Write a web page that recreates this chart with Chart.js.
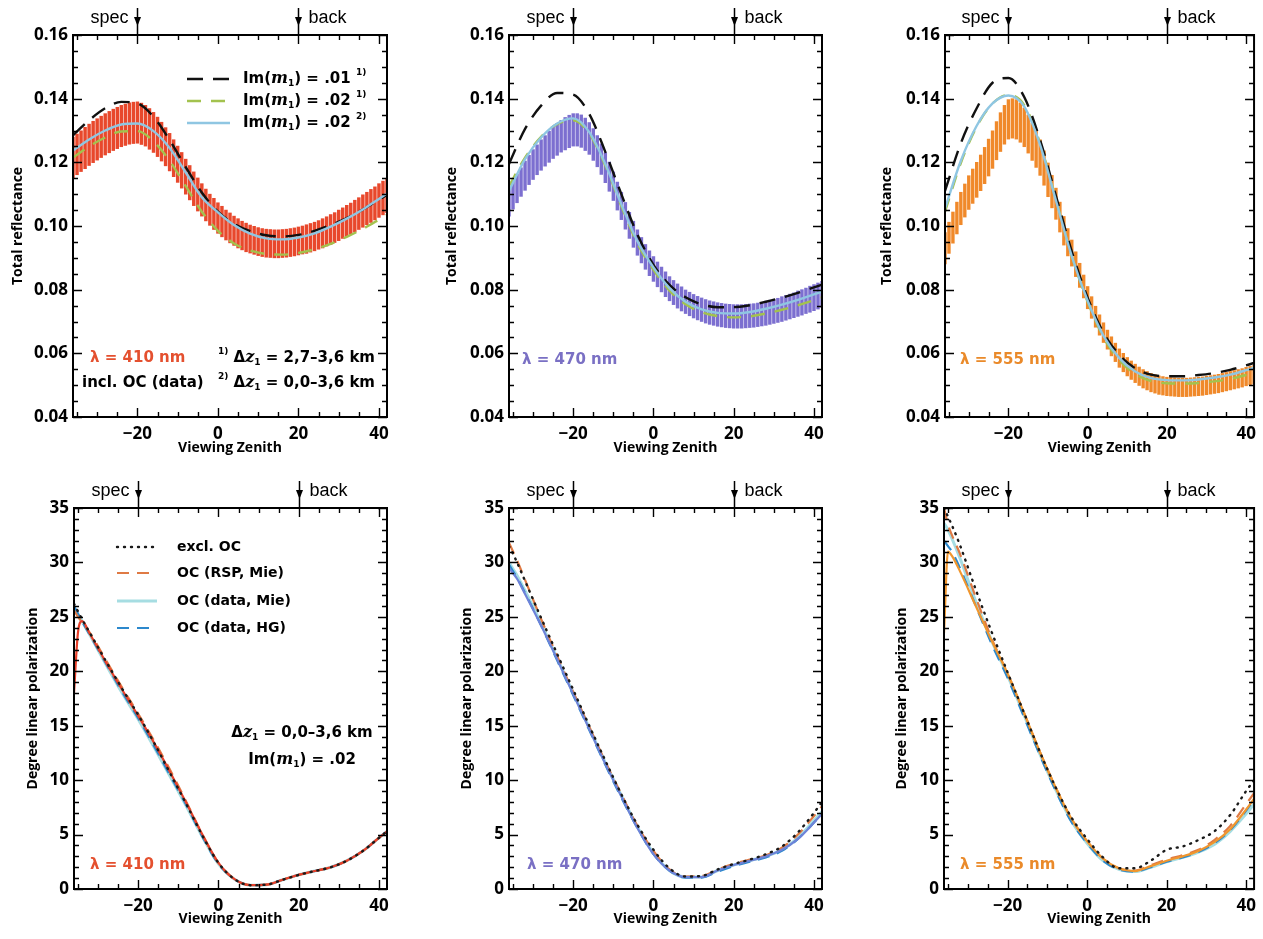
<!DOCTYPE html>
<html>
<head>
<meta charset="utf-8">
<title>Total reflectance and degree of linear polarization</title>
<script src="https://cdn.jsdelivr.net/npm/chart.js@4.4.1/dist/chart.umd.min.js"></script>
<style>
  html, body { margin: 0; padding: 0; background: #fff; }
  #page { position: relative; width: 1263px; height: 939px; overflow: hidden; }
  #page canvas { position: absolute; }
</style>
</head>
<body>
<div id="page"></div>
<script>
// ---- x positions (viewing zenith, degrees) ----
var zenithBars = [-36,-35,-34,-33,-32,-31,-30,-29,-28,-27,-26,-25,-24,-23,-22,-21,-20,-19,-18,-17,-16,-15,-14,-13,-12,-11,-10,-9,-8,-7,-6,-5,-4,-3,-2,-1,0,1,2,3,4,5,6,7,8,9,10,11,12,13,14,15,16,17,18,19,20,21,22,23,24,25,26,27,28,29,30,31,32,33,34,35,36,37,38,39,40,41,42];
var zenithModel = [-36,-32,-28,-24,-20,-16,-12,-8,-4,0,4,8,12,16,20,24,28,32,36,40,42];
var zenithDolp = [-36,-35,-34,-32,-28,-24,-20,-16,-12,-8,-4,0,4,8,12,16,20,24,28,32,36,40,42];

// ---- total reflectance, measured (mean and half error bar) ----
var refl410Mean = [0.1215,0.1225,0.1235,0.1245,0.1255,0.1264,0.1272,0.128,0.1288,0.1295,
    0.1302,0.1308,0.1314,0.1318,0.1322,0.1324,0.1325,0.1321,0.1315,0.1305,
    0.1294,0.128,0.1265,0.1249,0.1232,0.1213,0.1194,0.1175,0.1155,0.1136,
    0.1117,0.1099,0.1082,0.1066,0.1051,0.1038,0.1025,0.1014,0.1003,0.0994,
    0.0985,0.0977,0.097,0.0964,0.0959,0.0955,0.0951,0.0948,0.0946,0.0945,
    0.0944,0.0944,0.0945,0.0946,0.0948,0.095,0.0953,0.0956,0.0959,0.0963,
    0.0967,0.0972,0.0977,0.0983,0.0989,0.0995,0.1002,0.1009,0.1016,0.1023,
    0.1031,0.1039,0.1047,0.1055,0.1063,0.1071,0.108,0.1088,0.1096];
var refl410Err = [0.0065,0.0065,0.0065,0.0066,0.0066,0.0066,0.0066,0.0066,0.0066,0.0066,
    0.0066,0.0066,0.0066,0.0066,0.0066,0.0066,0.0066,0.0066,0.0065,0.0065,
    0.0064,0.0063,0.0062,0.0061,0.006,0.0059,0.0058,0.0057,0.0056,0.0055,
    0.0054,0.0053,0.0052,0.0051,0.005,0.005,0.0049,0.0049,0.0048,0.0048,
    0.0047,0.0047,0.0046,0.0046,0.0045,0.0045,0.0045,0.0045,0.0045,0.0045,
    0.0045,0.0045,0.0045,0.0045,0.0045,0.0045,0.0045,0.0045,0.0046,0.0046,
    0.0046,0.0046,0.0047,0.0047,0.0048,0.0048,0.0049,0.0049,0.005,0.005,
    0.0051,0.0051,0.0052,0.0052,0.0053,0.0053,0.0054,0.0054,0.0055];
var refl470Mean = [0.1075,0.1097,0.1118,0.1138,0.1158,0.1176,0.1193,0.1208,0.1223,0.1236,
    0.1249,0.1261,0.1272,0.1282,0.129,0.1297,0.1302,0.1302,0.1298,0.1288,
    0.1275,0.1256,0.1235,0.121,0.1183,0.1155,0.1125,0.1094,0.1063,0.1032,
    0.1002,0.0974,0.0948,0.0924,0.0903,0.0883,0.0865,0.0848,0.0832,0.0817,
    0.0803,0.0791,0.078,0.0771,0.0762,0.0755,0.0748,0.0742,0.0737,0.0732,
    0.0728,0.0725,0.0722,0.072,0.0718,0.0717,0.0716,0.0716,0.0716,0.0717,
    0.0718,0.0719,0.0721,0.0723,0.0726,0.0729,0.0732,0.0735,0.0739,0.0743,
    0.0747,0.0751,0.0756,0.076,0.0765,0.077,0.0775,0.078,0.0785];
var refl470Err = [0.0045,0.0045,0.0046,0.0046,0.0047,0.0047,0.0048,0.0048,0.0049,0.0049,
    0.005,0.005,0.0051,0.0051,0.0052,0.0052,0.0052,0.0052,0.0052,0.0052,
    0.0051,0.0051,0.005,0.0049,0.0048,0.0047,0.0046,0.0045,0.0044,0.0043,
    0.0042,0.0042,0.0041,0.0041,0.004,0.004,0.004,0.004,0.004,0.004,
    0.0039,0.0039,0.0039,0.0039,0.0038,0.0038,0.0038,0.0038,0.0038,0.0038,
    0.0038,0.0038,0.0038,0.0038,0.0038,0.0038,0.0038,0.0038,0.0038,0.0038,
    0.0038,0.0038,0.0038,0.0038,0.0039,0.0039,0.0039,0.0039,0.004,0.004,
    0.004,0.004,0.0041,0.0041,0.0041,0.0042,0.0042,0.0042,0.0042];
var refl555Mean = [0.093,0.0963,0.0995,0.1025,0.1055,0.108,0.1105,0.1125,0.1145,0.1167,
    0.119,0.1215,0.124,0.1268,0.1295,0.1318,0.1335,0.1338,0.1335,0.1325,
    0.131,0.1289,0.1265,0.1241,0.1215,0.1182,0.1145,0.1108,0.107,0.1028,
    0.0985,0.0949,0.0915,0.088,0.0845,0.081,0.0775,0.0744,0.0715,0.0689,
    0.0665,0.0643,0.0622,0.0603,0.0585,0.0571,0.0558,0.0547,0.0537,0.0528,
    0.052,0.0514,0.0508,0.0504,0.05,0.0498,0.0496,0.0495,0.0494,0.0493,
    0.0493,0.0493,0.0494,0.0495,0.0496,0.0497,0.0499,0.0501,0.0503,0.0505,
    0.0508,0.0511,0.0514,0.0517,0.052,0.0523,0.0527,0.053,0.0533];
var refl555Err = [0.005,0.005,0.005,0.0051,0.0052,0.0053,0.0054,0.0055,0.0056,0.0057,
    0.0058,0.0059,0.006,0.0061,0.0062,0.0062,0.0063,0.0063,0.0063,0.0063,
    0.0062,0.0061,0.006,0.0058,0.0057,0.0055,0.0054,0.0052,0.005,0.0048,
    0.0046,0.0044,0.0042,0.004,0.0039,0.0037,0.0036,0.0035,0.0034,0.0033,
    0.0032,0.0031,0.0031,0.003,0.003,0.003,0.003,0.003,0.003,0.003,
    0.003,0.003,0.003,0.003,0.003,0.003,0.003,0.003,0.003,0.003,
    0.003,0.003,0.003,0.003,0.003,0.003,0.003,0.003,0.003,0.003,
    0.003,0.003,0.003,0.003,0.003,0.003,0.003,0.003,0.003];

// ---- total reflectance, model runs ----
var refl410Im01 = [0.1285,0.1332,0.137,0.139,0.1385,0.1343,0.127,0.1185,0.1105,0.1045,0.1007,0.0984,0.0971,0.0967,0.0972,0.0985,0.1003,0.1025,0.1052,0.1082,0.1098];
var refl410Im02 = [0.1215,0.125,0.1278,0.1297,0.1298,0.1266,0.1205,0.1125,0.1045,0.0985,0.0945,0.0923,0.0912,0.091,0.0915,0.0927,0.0944,0.0966,0.0991,0.102,0.1035];
var refl410Im02b = [0.1237,0.1272,0.13,0.1319,0.1322,0.1298,0.1245,0.1168,0.109,0.1043,0.1003,0.0976,0.0961,0.0958,0.0964,0.0977,0.0998,0.1023,0.1052,0.1085,0.1102];
var refl470Im01 = [0.1195,0.1305,0.1378,0.1418,0.1413,0.1352,0.1233,0.11,0.0973,0.0878,0.0815,0.0776,0.0754,0.0745,0.0745,0.0751,0.0762,0.0775,0.079,0.0807,0.0816];
var refl470Im02 = [0.1125,0.1215,0.128,0.132,0.1332,0.129,0.119,0.1062,0.0945,0.0862,0.0797,0.0754,0.0729,0.0717,0.0713,0.0716,0.0725,0.0737,0.0751,0.0767,0.0776];
var refl470Im02b = [0.111,0.121,0.1278,0.1322,0.1338,0.1295,0.1195,0.1068,0.0952,0.087,0.0805,0.0762,0.0738,0.0727,0.0725,0.073,0.074,0.0753,0.0768,0.0785,0.0794];
var refl555Im01 = [0.111,0.126,0.137,0.145,0.1465,0.1405,0.127,0.1095,0.092,0.0775,0.0665,0.0595,0.0553,0.0533,0.0528,0.0528,0.0532,0.0538,0.0548,0.0562,0.057];
var refl555Im02 = [0.1045,0.1198,0.1312,0.1385,0.1412,0.138,0.126,0.1083,0.0905,0.0762,0.065,0.0578,0.0535,0.0513,0.0506,0.0505,0.0507,0.0512,0.052,0.0532,0.0539];
var refl555Im02b = [0.1055,0.1205,0.1315,0.1385,0.141,0.1375,0.1255,0.108,0.0905,0.0765,0.0655,0.0585,0.0543,0.0522,0.0516,0.0515,0.0518,0.0524,0.0533,0.0547,0.0555];

// ---- degree of linear polarization (%) ----
var dolp410Meas = [18.0,23.6,24.6,23.4,20.8,18.3,15.9,13.4,10.7,7.9,5.0,2.4,0.9,0.35,0.4,0.85,1.3,1.65,2.0,2.6,3.5,4.7,5.3];
var dolp410Excl = [26.2,25.5,24.8,23.5,20.9,18.4,16.0,13.4,10.6,7.8,4.9,2.4,0.9,0.35,0.4,0.85,1.3,1.65,2.0,2.6,3.5,4.7,5.3];
var dolp410RspMie = [25.6,25.0,24.5,23.5,21.0,18.5,16.1,13.6,10.9,8.0,5.0,2.4,0.9,0.35,0.4,0.85,1.3,1.65,2.0,2.6,3.5,4.7,5.2];
var dolp410DataMie = [25.8,25.2,24.6,23.3,20.6,18.0,15.6,13.0,10.3,7.6,4.8,2.3,0.9,0.35,0.4,0.85,1.3,1.65,2.0,2.6,3.5,4.7,5.3];
var dolp410DataHG = [26.0,25.3,24.6,23.3,20.7,18.1,15.7,13.1,10.4,7.7,4.8,2.3,0.9,0.35,0.4,0.85,1.3,1.65,2.0,2.6,3.5,4.7,5.3];

var dolp470Meas = [29.5,29.0,28.5,27.1,24.2,21.1,17.9,14.7,11.5,8.5,5.6,3.2,1.7,1.1,1.1,1.7,2.2,2.6,3.0,3.6,4.6,6.1,6.9];
var dolp470Excl = [31.5,30.8,30.0,28.3,24.9,21.6,18.3,15.0,11.8,8.7,5.9,3.6,1.9,1.15,1.2,1.8,2.3,2.7,3.2,3.9,5.2,7.0,8.0];
var dolp470RspMie = [31.8,31.0,30.2,28.4,24.8,21.4,18.1,14.9,11.7,8.7,5.8,3.5,1.8,1.15,1.2,1.8,2.3,2.7,3.1,3.8,5.0,6.7,7.6];
var dolp470DataMie = [30.0,29.4,28.8,27.4,24.4,21.2,18.0,14.8,11.6,8.6,5.7,3.3,1.7,1.1,1.1,1.7,2.2,2.6,3.0,3.6,4.7,6.3,7.1];
var dolp470DataHG = [29.8,29.2,28.6,27.2,24.2,21.0,17.8,14.6,11.4,8.4,5.6,3.2,1.7,1.05,1.05,1.6,2.1,2.5,2.9,3.5,4.6,6.1,6.9];

var dolp555Meas = [23.5,31.0,30.6,29.2,26.0,22.8,19.8,16.3,12.7,9.4,6.5,4.4,2.8,1.9,1.65,2.1,2.6,3.0,3.5,4.3,5.5,7.3,8.3];
var dolp555Excl = [35.0,34.2,33.4,31.6,27.5,23.6,19.9,16.3,12.7,9.4,6.6,4.6,2.9,1.9,1.9,2.6,3.6,3.9,4.5,5.3,6.8,9.0,10.0];
var dolp555RspMie = [35.0,33.5,32.5,30.8,26.8,23.0,19.8,16.3,12.7,9.4,6.5,4.4,2.8,1.9,1.7,2.2,2.7,3.1,3.6,4.5,5.8,7.8,8.8];
var dolp555DataMie = [33.6,33.0,32.2,30.4,26.4,22.8,19.6,16.1,12.5,9.2,6.3,4.2,2.6,1.8,1.6,2.0,2.5,2.9,3.4,4.1,5.3,6.9,7.8];
var dolp555DataHG = [32.0,31.5,31.0,29.5,26.0,22.5,19.4,15.9,12.4,9.1,6.2,4.2,2.6,1.8,1.6,2.0,2.5,2.9,3.4,4.2,5.4,7.2,8.2];

// ---- axis labels ----
var xTitle = 'Viewing Zenith';
var reflTitle = 'Total reflectance';
var dolpTitle = 'Degree linear polarization';
var legendRefl = ['Im({i:m}{b:1}) = .01 {p:1)}', 'Im({i:m}{b:1}) = .02 {p:1)}', 'Im({i:m}{b:1}) = .02 {p:2)}'];
var legendDolp = ['excl. OC', 'OC (RSP, Mie)', 'OC (data, Mie)', 'OC (data, HG)'];

/**
 * styles of the model lines
 */
var STY = {
    im01: {color: '#111111', width: 2.4, dash: [16, 10]},
    im02: {color: '#a3c24e', width: 2.4, dash: [14, 10]},
    im02b: {color: '#8fc6e2', width: 2.4, dash: []},
    excl: {color: '#1a1a1a', width: 2.4, dash: [1, 6], cap: 'round'},
    rsp: {color: '#df7a44', width: 2.2, dash: [12, 8]},
    dmie: {color: '#a6dde2', width: 3, dash: []},
    dhg: {color: '#2c88cc', width: 2.2, dash: [12, 8]}
};

function pairs(xs, ys) {
    var out = [];
    for (var i = 0; i < xs.length; i++) out.push({x: xs[i], y: ys[i]});
    return out;
}

function bars(xs, mean, err) {
    var out = [];
    for (var i = 0; i < xs.length; i++) out.push({x: xs[i], y: [mean[i] - err[i], mean[i] + err[i]]});
    return out;
}

function lineSet(label, xs, ys, st, order) {
    return {
        type: 'line', label: label, data: pairs(xs, ys),
        borderColor: st.color, backgroundColor: st.color, borderWidth: st.width,
        borderDash: st.dash, borderCapStyle: st.cap || 'butt',
        pointRadius: 0, fill: false, cubicInterpolationMode: 'monotone', order: order
    };
}

function barSet(label, xs, mean, err, color) {
    return {
        type: 'bar', label: label, data: bars(xs, mean, err),
        backgroundColor: color, borderWidth: 0,
        barPercentage: 0.86, categoryPercentage: 1, order: 10
    };
}

/**
 * Text with italic / subscript / superscript pieces: {i:..} {b:..} {p:..}
 */
function drawRich(ctx, str, x, y, align, color, size) {
    var re = /\{([ibp]):([^}]*)\}/g, parts = [], last = 0, m;
    while ((m = re.exec(str)) !== null) {
        if (m.index > last) parts.push({k: 'n', t: str.slice(last, m.index)});
        parts.push({k: m[1], t: m[2]});
        last = re.lastIndex;
    }
    if (last < str.length) parts.push({k: 'n', t: str.slice(last)});
    var small = Math.round(size * 0.62);
    var fonts = {
        n: 'bold ' + size + 'px "DejaVu Sans"',
        i: 'bold italic ' + (size + 1) + 'px "DejaVu Serif"',
        b: 'bold ' + small + 'px "DejaVu Sans"',
        p: 'bold ' + small + 'px "DejaVu Sans"'
    };
    var shift = {n: 0, i: 0, b: size * 0.3, p: -size * 0.4};
    var total = 0;
    parts.forEach(function (pt) {
        ctx.font = fonts[pt.k];
        pt.w = ctx.measureText(pt.t).width;
        total += pt.w;
    });
    var cx = align === 'right' ? x - total : (align === 'center' ? x - total / 2 : x);
    ctx.fillStyle = color;
    ctx.textAlign = 'left';
    ctx.textBaseline = 'middle';
    parts.forEach(function (pt) {
        ctx.font = fonts[pt.k];
        ctx.fillText(pt.t, cx, y + shift[pt.k]);
        cx += pt.w;
    });
}

function eachTick(min, max, step, major, fn) {
    var n0 = Math.ceil(min / step - 1e-9), n1 = Math.floor(max / step + 1e-9);
    for (var n = n0; n <= n1; n++) {
        var v = n * step, q = v / major;
        fn(v, Math.abs(q - Math.round(q)) < 1e-6);
    }
}

/**
 * Frame, inward ticks, spec/back markers, legend and notes
 */
function makeDecor(p) {
    return {
        id: 'decor',
        afterDatasetsDraw: function (chart) {
            var ctx = chart.ctx, a = chart.chartArea, xs = chart.scales.x, ys = chart.scales.y;
            ctx.save();
            ctx.strokeStyle = '#000';
            ctx.lineWidth = 1.4;
            ctx.setLineDash([]);
            ctx.beginPath();
            eachTick(xs.min, xs.max, 5, 20, function (v, major) {
                var px = Math.round(xs.getPixelForValue(v)) + 0.5, len = major ? 9 : 5;
                ctx.moveTo(px, a.bottom); ctx.lineTo(px, a.bottom - len);
                ctx.moveTo(px, a.top); ctx.lineTo(px, a.top + len);
            });
            eachTick(ys.min, ys.max, p.yMinor, p.yStep, function (v, major) {
                var py = Math.round(ys.getPixelForValue(v)) + 0.5, len = major ? 9 : 5;
                ctx.moveTo(a.left, py); ctx.lineTo(a.left + len, py);
                ctx.moveTo(a.right, py); ctx.lineTo(a.right - len, py);
            });
            ctx.stroke();
            ctx.lineWidth = 2;
            ctx.strokeRect(a.left, a.top, a.right - a.left, a.bottom - a.top);

            // spec / back arrows on the top axis
            [[-20, 'spec', 'right'], [20, 'back', 'left']].forEach(function (mk) {
                var ax = Math.round(xs.getPixelForValue(mk[0])) + 0.5;
                ctx.lineWidth = 1.5;
                ctx.beginPath();
                ctx.moveTo(ax, a.top - 27); ctx.lineTo(ax, a.top);
                ctx.stroke();
                ctx.beginPath();
                ctx.moveTo(ax - 3.5, a.top - 18); ctx.lineTo(ax + 3.5, a.top - 18); ctx.lineTo(ax, a.top - 9);
                ctx.closePath();
                ctx.fillStyle = '#000';
                ctx.fill();
                ctx.font = '18px "Liberation Sans"';
                ctx.textAlign = mk[2];
                ctx.textBaseline = 'middle';
                ctx.fillText(mk[1], mk[2] === 'right' ? ax - 9 : ax + 10, a.top - 17);
            });

            // legend
            if (p.legend) {
                p.legend.items.forEach(function (it, i) {
                    var y = a.top + p.legend.rows[i];
                    ctx.save();
                    ctx.strokeStyle = it.st.color;
                    ctx.lineWidth = it.st.width;
                    ctx.lineCap = it.st.cap || 'butt';
                    ctx.setLineDash(it.st.dash);
                    ctx.beginPath();
                    ctx.moveTo(a.left + p.legend.x1, y);
                    ctx.lineTo(a.left + p.legend.x2, y);
                    ctx.stroke();
                    ctx.restore();
                    drawRich(ctx, it.text, a.left + p.legend.tx, y, 'left', '#000', p.legend.size);
                });
            }
            // notes
            (p.notes || []).forEach(function (n) {
                drawRich(ctx, n.text, a.left + n.x, a.top + n.y, n.align || 'left', n.color || '#000', n.size || 15);
            });
            ctx.restore();
        }
    };
}

function minusLabel(v) {
    return v < 0 ? '\u2212' + Math.abs(v) : String(v);
}

/**
 * Build one panel chart
 */
function makePanel(p) {
    var canvas = document.createElement('canvas');
    canvas.width = p.width;
    canvas.height = p.height;
    canvas.style.left = p.left + 'px';
    canvas.style.top = p.top + 'px';
    document.getElementById('page').appendChild(canvas);

    var yW = p.area.l - p.left;
    var xH = p.top + p.height - p.area.b;
    var tickFont = {family: 'Open Sans', size: 17, weight: 'bold'};
    var titleFont = {family: 'Open Sans', size: 14, weight: 'bold'};

    return new Chart(canvas.getContext('2d'), {
        type: 'line',
        data: {datasets: p.datasets},
        options: {
            responsive: false,
            animation: false,
            events: [],
            layout: {padding: {left: 0, top: p.area.t - p.top, right: p.left + p.width - p.area.r, bottom: 0}},
            plugins: {legend: {display: false}, tooltip: {enabled: false}},
            scales: {
                x: {
                    type: 'linear', min: -36, max: 42, offset: false,
                    grid: {display: false, drawTicks: false, offset: false},
                    border: {display: false},
                    ticks: {stepSize: 20, includeBounds: false, padding: 7, color: '#000', font: tickFont,
                        maxRotation: 0, autoSkip: false, callback: minusLabel},
                    title: {display: true, text: xTitle, color: '#000', font: titleFont, padding: {top: 0, bottom: p.xTitlePad}},
                    afterFit: function (s) { s.height = xH; }
                },
                y: {
                    type: 'linear', min: p.yMin, max: p.yMax,
                    grid: {display: false, drawTicks: false},
                    border: {display: false},
                    ticks: {stepSize: p.yStep, padding: 5, color: '#000', font: tickFont,
                        callback: function (v) { return v.toFixed(p.yDigits); }},
                    title: {display: true, text: p.yTitle, color: '#000', font: titleFont, padding: {top: p.yTitlePad, bottom: 0}},
                    afterFit: function (s) { s.width = yW; }
                }
            }
        },
        plugins: [makeDecor(p)]
    });
}

function reflSets(mean, err, barColor, m1, m2, m3) {
    return [
        lineSet(legendRefl[0], zenithModel, m1, STY.im01, 2),
        lineSet(legendRefl[1], zenithModel, m2, STY.im02, 3),
        lineSet(legendRefl[2], zenithModel, m3, STY.im02b, 1),
        barSet('data', zenithBars, mean, err, barColor)
    ];
}

function dolpSets(meas, measColor, excl, rsp, dmie, dhg) {
    return [
        lineSet(legendDolp[0], zenithDolp, excl, STY.excl, 0),
        lineSet('data', zenithDolp, meas, {color: measColor, width: 2.2, dash: []}, 1),
        lineSet(legendDolp[1], zenithDolp, rsp, STY.rsp, 2),
        lineSet(legendDolp[3], zenithDolp, dhg, STY.dhg, 3),
        lineSet(legendDolp[2], zenithDolp, dmie, STY.dmie, 4)
    ];
}

var C410 = '#e4502f', C470 = '#7a70c4', C555 = '#ea8a2a';
var REFL = {yMin: 0.04, yMax: 0.16, yStep: 0.02, yMinor: 0.005, yDigits: 2, yTitle: reflTitle, xTitlePad: 14};
var DOLP = {yMin: 0, yMax: 35, yStep: 5, yMinor: 1, yDigits: 0, yTitle: dolpTitle, xTitlePad: 12};

function panel(base, extra) {
    var out = {}, k;
    for (k in base) out[k] = base[k];
    for (k in extra) out[k] = extra[k];
    return out;
}

// top row: total reflectance
makePanel(panel(REFL, {
    left: 0, top: 0, width: 400, height: 470, area: {l: 73, r: 387, t: 35, b: 417}, yTitlePad: 10,
    datasets: reflSets(refl410Mean, refl410Err, '#e8482c', refl410Im01, refl410Im02, refl410Im02b),
    legend: {x1: 114, x2: 157, tx: 170, size: 15, rows: [44, 66, 88],
        items: [{text: legendRefl[0], st: STY.im01}, {text: legendRefl[1], st: STY.im02}, {text: legendRefl[2], st: STY.im02b}]},
    notes: [
        {text: '\u03bb = 410 nm', x: 17, y: 323, color: C410},
        {text: 'incl. OC (data)', x: 9, y: 348},
        {text: '{p:1)} \u0394{i:z}{b:1} = 2,7\u20133,6 km', x: 302, y: 323, align: 'right'},
        {text: '{p:2)} \u0394{i:z}{b:1} = 0,0\u20133,6 km', x: 302, y: 348, align: 'right'}
    ]
}));
makePanel(panel(REFL, {
    left: 420, top: 0, width: 415, height: 470, area: {l: 509, r: 822, t: 35, b: 417}, yTitlePad: 24,
    datasets: reflSets(refl470Mean, refl470Err, '#7c6fd0', refl470Im01, refl470Im02, refl470Im02b),
    notes: [{text: '\u03bb = 470 nm', x: 13, y: 325, color: C470}]
}));
makePanel(panel(REFL, {
    left: 840, top: 0, width: 423, height: 470, area: {l: 945, r: 1257, t: 35, b: 417}, yTitlePad: 39,
    datasets: reflSets(refl555Mean, refl555Err, '#f0892a', refl555Im01, refl555Im02, refl555Im02b),
    notes: [{text: '\u03bb = 555 nm', x: 15, y: 325, color: C555}]
}));

// bottom row: degree of linear polarization
makePanel(panel(DOLP, {
    left: 0, top: 470, width: 400, height: 469, area: {l: 74, r: 387, t: 508, b: 889}, yTitlePad: 25,
    datasets: dolpSets(dolp410Meas, '#e8402a', dolp410Excl, dolp410RspMie, dolp410DataMie, dolp410DataHG),
    legend: {x1: 43, x2: 83, tx: 103, size: 14, rows: [39, 65, 93, 120],
        items: [{text: legendDolp[0], st: STY.excl}, {text: legendDolp[1], st: STY.rsp},
            {text: legendDolp[2], st: STY.dmie}, {text: legendDolp[3], st: STY.dhg}]},
    notes: [
        {text: '\u0394{i:z}{b:1} = 0,0\u20133,6 km', x: 228, y: 225, align: 'center'},
        {text: 'Im({i:m}{b:1}) = .02', x: 228, y: 252, align: 'center'},
        {text: '\u03bb = 410 nm', x: 16, y: 357, color: C410}
    ]
}));
makePanel(panel(DOLP, {
    left: 420, top: 470, width: 415, height: 469, area: {l: 509, r: 822, t: 508, b: 889}, yTitlePad: 39,
    datasets: dolpSets(dolp470Meas, '#6d82d8', dolp470Excl, dolp470RspMie, dolp470DataMie, dolp470DataHG),
    notes: [{text: '\u03bb = 470 nm', x: 18, y: 357, color: C470}]
}));
makePanel(panel(DOLP, {
    left: 840, top: 470, width: 423, height: 469, area: {l: 944, r: 1257, t: 508, b: 889}, yTitlePad: 54,
    datasets: dolpSets(dolp555Meas, '#f0962e', dolp555Excl, dolp555RspMie, dolp555DataMie, dolp555DataHG),
    notes: [{text: '\u03bb = 555 nm', x: 16, y: 357, color: C555}]
}));
</script>
</body>
</html>
